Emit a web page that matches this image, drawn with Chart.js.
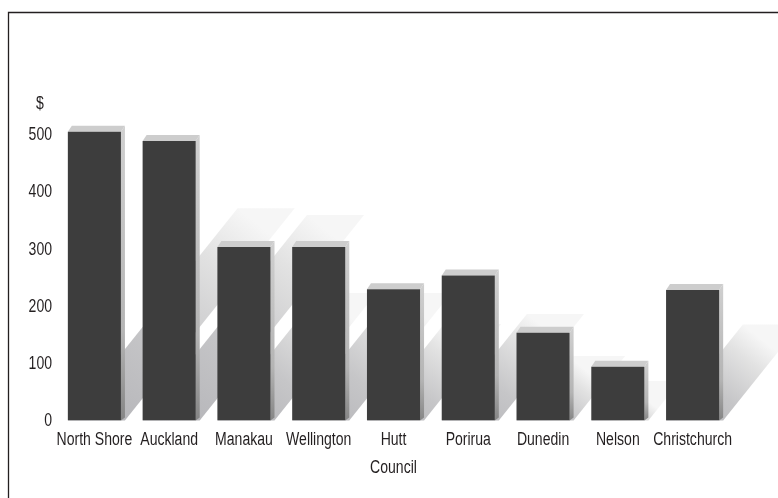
<!DOCTYPE html>
<html>
<head>
<meta charset="utf-8">
<style>
  html, body { margin: 0; padding: 0; background: #ffffff; }
  #wrap { position: relative; width: 778px; height: 498px; }
  canvas { display: block; }
</style>
<script src="https://cdn.jsdelivr.net/npm/chart.js@4.4.1/dist/chart.umd.min.js"></script>
</head>
<body>
<div id="wrap"><canvas id="c" width="778" height="498"></canvas></div>
<script>
const categories = ['North Shore', 'Auckland', 'Manakau', 'Wellington', 'Hutt', 'Porirua', 'Dunedin', 'Nelson', 'Christchurch'];
const values = [504, 488, 303, 303, 229, 253, 153, 94, 228];
const yTicks = [0, 100, 200, 300, 400, 500];
const yUnitLabel = '$';
const xTitle = 'Council';

const FONT = "'Liberation Sans', Arial, sans-serif";
const TEXT = '#231f20';
const NARROW = 0.78;

function narrowText(ctx, text, x, y, align) {
  ctx.save();
  ctx.translate(x, y);
  ctx.scale(NARROW, 1);
  ctx.textAlign = align;
  ctx.textBaseline = 'middle';
  ctx.fillText(text, 0, 0);
  ctx.restore();
}

const frame3d = {
  id: 'frame3d',
  beforeDraw(chart) {
    const ctx = chart.ctx;
    ctx.save();
    ctx.fillStyle = '#ffffff';
    ctx.fillRect(0, 0, chart.width, chart.height);
    ctx.strokeStyle = '#231f20';
    ctx.lineWidth = 1.3;
    ctx.beginPath();
    ctx.moveTo(8.5, chart.height + 2);
    ctx.lineTo(8.5, 12.5);
    ctx.lineTo(chart.width + 2, 12.5);
    ctx.stroke();
    ctx.restore();
  },
  beforeDatasetsDraw(chart) {
    const ctx = chart.ctx;
    const meta = chart.getDatasetMeta(0);
    ctx.save();
    // cast shadows
    meta.data.forEach((bar) => {
      const xL = bar.x - bar.width / 2, xR = bar.x + bar.width / 2;
      const h = bar.base - bar.y;
      const H = h * 0.735;
      const dx = H * 0.8;
      const g = ctx.createLinearGradient(xL, bar.base, xL + dx, bar.base - H);
      g.addColorStop(0, '#b2b2b6');
      g.addColorStop(0.45, '#c6c6c8');
      g.addColorStop(0.8, '#e2e2e2');
      g.addColorStop(1, '#f6f6f6');
      ctx.fillStyle = g;
      ctx.beginPath();
      ctx.moveTo(xL, bar.base);
      ctx.lineTo(xR + 4, bar.base);
      ctx.lineTo(xR + 4 + dx, bar.base - H);
      ctx.lineTo(xL + dx, bar.base - H);
      ctx.closePath();
      ctx.fill();
    });
    // side and top faces
    meta.data.forEach((bar) => {
      const xL = bar.x - bar.width / 2, xR = bar.x + bar.width / 2;
      const ox = 4, oy = 6;
      const sg = ctx.createLinearGradient(0, bar.y - oy, 0, bar.base);
      sg.addColorStop(0, '#d0d0d0');
      sg.addColorStop(0.7, '#b4b4b4');
      sg.addColorStop(1, '#858585');
      ctx.fillStyle = sg;
      ctx.beginPath();
      ctx.moveTo(xR, bar.y);
      ctx.lineTo(xR + ox, bar.y - oy);
      ctx.lineTo(xR + ox, bar.base - 3);
      ctx.lineTo(xR, bar.base);
      ctx.closePath();
      ctx.fill();
      ctx.fillStyle = '#cdcdcd';
      ctx.beginPath();
      ctx.moveTo(xL, bar.y);
      ctx.lineTo(xL + ox, bar.y - oy);
      ctx.lineTo(xR + ox, bar.y - oy);
      ctx.lineTo(xR, bar.y);
      ctx.closePath();
      ctx.fill();
    });
    ctx.restore();
  },
  afterDraw(chart) {
    const ctx = chart.ctx;
    const ys = chart.scales.y;
    const xs = chart.scales.x;
    ctx.save();
    ctx.fillStyle = TEXT;
    ctx.font = '18px ' + FONT;
    // y tick labels
    yTicks.forEach(v => narrowText(ctx, String(v), 52, ys.getPixelForValue(v) + 1, 'right'));
    // unit label
    narrowText(ctx, yUnitLabel, 40, ys.getPixelForValue(550) - 1, 'center');
    // category labels
    categories.forEach((c, i) => narrowText(ctx, c, xs.getPixelForTick(i), 440, 'center'));
    // axis title
    narrowText(ctx, xTitle, (xs.left + xs.right) / 2, 468.5, 'center');
    ctx.restore();
  }
};

new Chart(document.getElementById('c'), {
  type: 'bar',
  data: {
    labels: categories,
    datasets: [{
      data: values,
      backgroundColor: '#3d3d3d',
      borderWidth: 0,
      categoryPercentage: 1,
      barPercentage: 0.71
    }]
  },
  plugins: [frame3d],
  options: {
    responsive: false,
    animation: false,
    events: [],
    layout: { padding: { top: 105.5, right: 48, bottom: 77.5, left: 0 } },
    plugins: { legend: { display: false }, tooltip: { enabled: false } },
    scales: {
      x: {
        grid: { display: false, drawTicks: false },
        border: { display: false },
        ticks: { display: false },
        afterFit(scale) { scale.height = 0; }
      },
      y: {
        min: 0,
        max: 550,
        grid: { display: false, drawTicks: false },
        border: { display: false },
        afterBuildTicks(scale) { scale.ticks = yTicks.map(v => ({ value: v })); },
        afterFit(scale) { scale.width = 57; },
        ticks: { display: false }
      }
    }
  }
});
</script>
</body>
</html>
